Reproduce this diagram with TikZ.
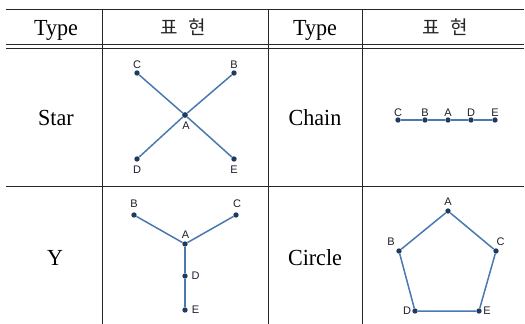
\documentclass[tikz,border=0pt]{standalone}
\usepackage{fontspec}
\setmainfont{Liberation Serif}
\newfontfamily\cellfont[FakeStretch=0.96]{Liberation Serif}
\newfontfamily\kofont{Noto Sans CJK KR}
\newfontfamily\labfont{Liberation Sans}
\begin{document}
\begin{tikzpicture}[x=1pt,y=-1pt,
  rule/.style={line width=1pt,black!85},
  cell/.style={font=\cellfont\fontsize{23}{26}\selectfont,inner sep=0pt,anchor=base},
  kocell/.style={font=\kofont\fontsize{19}{21}\selectfont,inner sep=0pt,text=black!85},
  vtx/.style={circle,fill=vtxcol,inner sep=0pt,minimum size=5.4pt},
  lab/.style={font=\labfont\fontsize{11}{12}\selectfont,text=labcol,inner sep=0pt},
  edge/.style={draw=edgecol,line width=1.5pt}]
\definecolor{vtxcol}{HTML}{1F3A5F}
\definecolor{edgecol}{HTML}{4A78B0}
\definecolor{labcol}{HTML}{1E1E2E}
\useasboundingbox (0,0) rectangle (525,324);
\fill[white] (0,0) rectangle (525,324);
% table rules
\draw[rule] (6,9.5) -- (524,9.5);
\draw[rule] (6,44.5) -- (524,44.5);
\draw[rule] (6,48) -- (524,48);
\draw[rule] (6,186) -- (524,186);
\draw[rule] (102.5,9.5) -- (102.5,324);
\draw[rule] (268,9.5) -- (268,324);
\draw[rule] (362.5,9.5) -- (362.5,324);
% header
\node[cell] (h1) at (56,35) {Type};
\node[kocell] (h2) at (183.5,27.5) {표\hspace{11pt}현};
\node[cell] (h3) at (315,35) {Type};
\node[kocell] (h4) at (445,27.5) {표\hspace{11pt}현};
% row labels
\node[cell] (r1) at (56,125) {Star};
\node[cell] (r2) at (315,125) {Chain};
\node[cell] (r3) at (55,265) {Y};
\node[cell] (r4) at (315,265) {Circle};
% Star
\node[vtx] (sA) at (185,115) {};
\node[vtx] (sB) at (234,73) {};
\node[vtx] (sC) at (137,73) {};
\node[vtx] (sD) at (137,159) {};
\node[vtx] (sE) at (234,159) {};
\draw[edge] (sC) -- (sA) -- (sE);
\draw[edge] (sD) -- (sA) -- (sB);
\node[vtx] at (sA) {};
\node[lab] (lsC) at (137,64.5) {C};
\node[lab] (lsB) at (234,64.5) {B};
\node[lab] (lsA) at (186,126) {A};
\node[lab] (lsD) at (137,169.5) {D};
\node[lab] (lsE) at (234,169.5) {E};
% Chain
\node[vtx] (cC) at (398,120) {};
\node[vtx] (cB) at (425,120) {};
\node[vtx] (cA) at (448,120) {};
\node[vtx] (cD) at (471,120) {};
\node[vtx] (cE) at (495,120) {};
\draw[edge] (cC) -- (cB) -- (cA) -- (cD) -- (cE);
\node[lab] (lcC) at (398,112.5) {C};
\node[lab] (lcB) at (425,112.5) {B};
\node[lab] (lcA) at (448,112.5) {A};
\node[lab] (lcD) at (471,112.5) {D};
\node[lab] (lcE) at (495,112.5) {E};
% Y
\node[vtx] (yA) at (185,244) {};
\node[vtx] (yB) at (134,215) {};
\node[vtx] (yC) at (236,215) {};
\node[vtx] (yD) at (185,276) {};
\node[vtx] (yE) at (185,310) {};
\draw[edge] (yB) -- (yA) -- (yC);
\draw[edge] (yA) -- (yD) -- (yE);
\node[lab] (lyB) at (134,203.5) {B};
\node[lab] (lyC) at (237,204) {C};
\node[lab] (lyA) at (185.5,235) {A};
\node[lab] (lyD) at (195.5,276) {D};
\node[lab] (lyE) at (195.5,310) {E};
% Circle
\node[vtx] (pA) at (448,211) {};
\node[vtx] (pB) at (399,251) {};
\node[vtx] (pC) at (496,251) {};
\node[vtx] (pD) at (415,311) {};
\node[vtx] (pE) at (479,311) {};
\draw[edge] (pA) -- (pC) -- (pE) -- (pD) -- (pB) -- (pA);
\node[lab] (lpA) at (448,201.5) {A};
\node[lab] (lpB) at (391,242) {B};
\node[lab] (lpC) at (500.5,242) {C};
\node[lab] (lpD) at (407,311) {D};
\node[lab] (lpE) at (487,311) {E};
\end{tikzpicture}
\end{document}
